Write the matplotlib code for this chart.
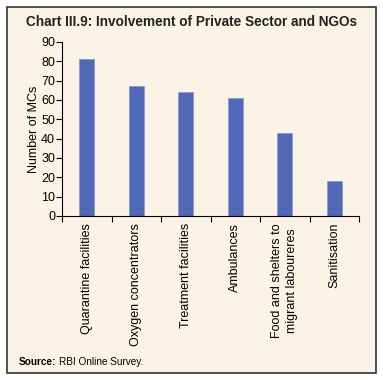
import matplotlib
matplotlib.use("Agg")
import matplotlib.pyplot as plt
from matplotlib.patches import Rectangle

categories = ["Quarantine facilities", "Oxygen concentrators", "Treatment facilities",
              "Ambulances", "Food and shelters to\nmigrant laboureres", "Sanitisation"]
values = [81, 67, 64, 61, 43, 18]
yticks = [0, 10, 20, 30, 40, 50, 60, 70, 80, 90]

plt.rcParams['font.family'] = ['Liberation Sans', 'DejaVu Sans']
W, H = 383, 380
bg = '#FBF3E6'
fig = plt.figure(figsize=(W/100, H/100), dpi=100)
fig.patch.set_facecolor('white')
frame = Rectangle((7/W, 1 - 373/H), (376-7)/W, (373-7)/H, transform=fig.transFigure,
                  facecolor=bg, edgecolor='#333333', linewidth=1.2, zorder=-10)
fig.patches.append(frame)

ax = fig.add_axes([62/W, 1 - 216/H, (359-62)/W, (216-42)/H])
ax.set_zorder(1)
ax.set_facecolor(bg)
x = list(range(len(categories)))
ax.bar(x, values, width=0.3, color='#5068B5', edgecolor='#8A9AD0', linewidth=0.6)
ax.set_xlim(-0.5, len(categories) - 0.5)
ax.set_ylim(0, 90)
ax.set_yticks(yticks)
ax.set_yticklabels([str(v) for v in yticks], fontsize=9)
ax.set_xticks([i - 0.5 for i in range(len(categories) + 1)], minor=False)
ax.set_xticklabels([])
ax.set_xticks(x, minor=True)
ax.set_xticklabels(categories, minor=True, rotation=90, fontsize=9, va='top', ha='center',
                   linespacing=1.35)
ax.tick_params(axis='x', which='minor', length=0, pad=5)
ax.tick_params(axis='x', which='major', length=4, width=0.8, direction='out')
ax.tick_params(axis='y', length=4, width=0.8, direction='out', pad=1)
for s in ['top', 'right']:
    ax.spines[s].set_visible(False)
for s in ['left', 'bottom']:
    ax.spines[s].set_linewidth(0.8)
ax.set_ylabel("Number of MCs", fontsize=9, labelpad=1)

fig.text(192/W, 1 - 22/H, "Chart III.9: Involvement of Private Sector and NGOs",
         ha='center', va='center', fontsize=9.8, fontweight='bold', color='#222222')
t1 = fig.text(19/W, 1 - 362/H, "Source:", ha='left', va='center', fontsize=7.2, fontweight='bold')
fig.canvas.draw()
bb = t1.get_window_extent()
fig.text((bb.x1 + 3) / W, 1 - 362/H, "RBI Online Survey.", ha='left', va='center', fontsize=7.2)

fig.savefig("out.png", dpi=100, facecolor='white')
